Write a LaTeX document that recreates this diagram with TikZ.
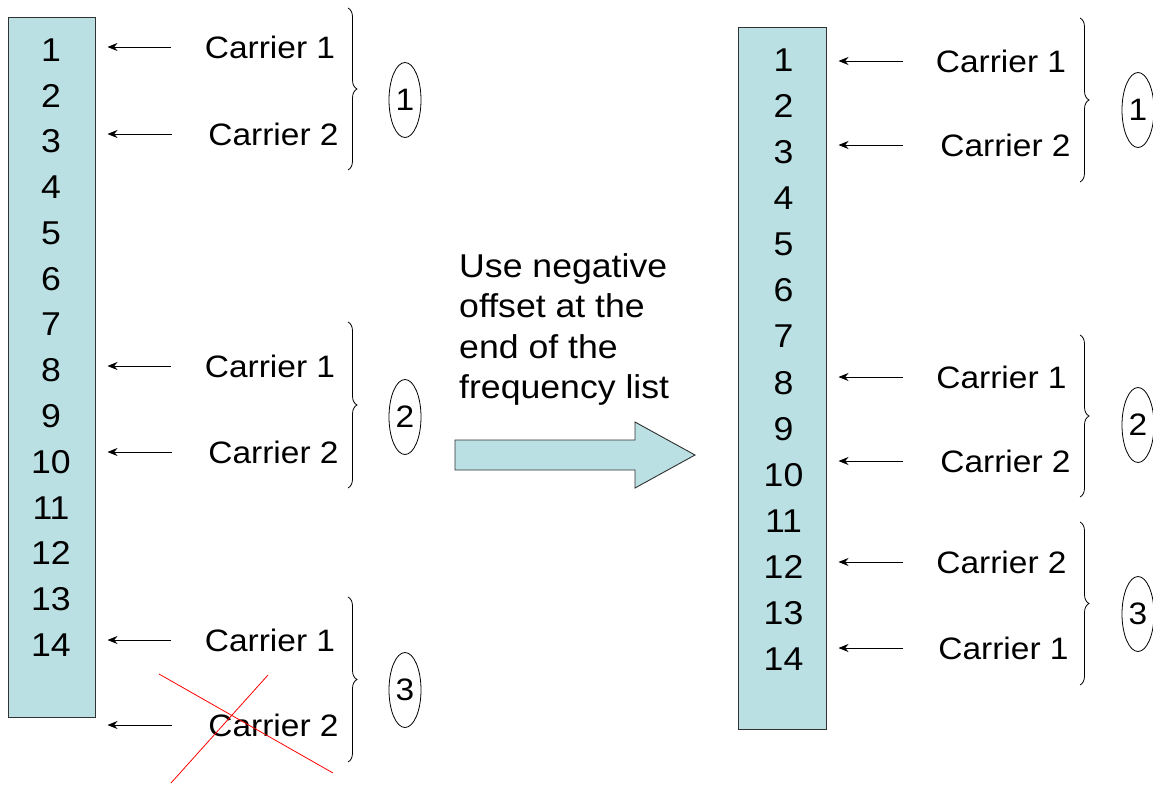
\documentclass[tikz,border=0pt]{standalone}
\usepackage{fontspec}
\setmainfont{Liberation Sans}[FakeStretch=1.08]
\usetikzlibrary{arrows.meta,shapes.geometric,decorations.pathreplacing}
\definecolor{boxblue}{RGB}{186,224,227}
\definecolor{edge}{RGB}{50,50,50}
\begin{document}
\begin{tikzpicture}[x=1pt,y=-1pt,
  colbox/.style={draw=edge,line width=1pt,fill=boxblue,inner sep=0,minimum width=#1},
  num/.style={inner sep=0,font=\fontsize{33}{36}\selectfont},
  car/.style={inner sep=0,font=\fontsize{31}{36}\selectfont},
  arr/.style={draw=black,line width=0.9pt,-{Stealth[length=10pt,width=8pt]}},
  brc/.style={draw=black,line width=0.8pt,decorate,decoration={brace,amplitude=9pt,raise=0pt}},
  grp/.style={ellipse,draw=black,line width=0.8pt,inner sep=0,minimum width=32,minimum height=75,font=\fontsize{31}{36}\selectfont},
  cross/.style={draw=red,line width=0.8pt}]
\useasboundingbox (0,0) rectangle (1153,784);
\fill[white] (0,0) rectangle (1153,784);

% left column
\node[colbox=87,minimum height=699] (L) at (51.5,367.5) {};
\foreach \i in {1,...,14} \node[num] (l\i) at (51,{50+(\i-1)*45.77}) {\i};

\node[car] (a1) at (270,47) {Carrier 1};
\node[car] (a2) at (273.5,134) {Carrier 2};
\node[car] (a3) at (270,366) {Carrier 1};
\node[car] (a4) at (273.5,452) {Carrier 2};
\node[car] (a5) at (270,640) {Carrier 1};
\node[car] (a6) at (273.5,725) {Carrier 2};
\foreach \n in {a1,a3,a5}
  \draw[arr,shorten <=34pt,shorten >=12pt] (\n.west) -- (\n.west -| L.east);
\foreach \n in {a2,a4,a6}
  \draw[arr,shorten <=36pt,shorten >=12pt] (\n.west) -- (\n.west -| L.east);

\coordinate (b1t) at (348,8);   \coordinate (b1b) at (348,170);
\coordinate (b2t) at (348,322); \coordinate (b2b) at (348,488);
\coordinate (b3t) at (348,597); \coordinate (b3b) at (348,762);
\draw[brc] (b1t) -- (b1b);
\draw[brc] (b2t) -- (b2b);
\draw[brc] (b3t) -- (b3b);
\node[grp] (e1) at (405,100) {1};
\node[grp] (e2) at (405,417) {2};
\node[grp] (e3) at (405,690) {3};

\draw[cross] (159,674) -- (333,773);
\draw[cross] (268,675) -- (171,783);

% middle
\node[inner sep=0,anchor=north west,align=left,font=\fontsize{33}{40.5}\selectfont] (msg) at (459,253)
  {Use negative\\offset at the\\end of the\\frequency list};
\draw[draw=edge,line width=0.9pt,fill=boxblue]
  (455,440) -- (635,440) -- (635,422) -- (695,455) -- (635,488) -- (635,470) -- (455,470) -- cycle;

% right column
\node[colbox=88,minimum height=701] (R) at (782,378.5) {};
\foreach \i in {1,...,14} \node[num] (r\i) at (783.5,{60+(\i-1)*46.1}) {\i};

\node[car] (c1) at (1001,61) {Carrier 1};
\node[car] (c2) at (1005.5,145) {Carrier 2};
\node[car] (c3) at (1001.5,377) {Carrier 1};
\node[car] (c4) at (1005.5,461) {Carrier 2};
\node[car] (c5) at (1001.5,562) {Carrier 2};
\node[car] (c6) at (1003.5,648) {Carrier 1};
\coordinate (ra) at (903,0);
\foreach \n in {c1,c2,c3,c4,c5,c6}
  \draw[arr,shorten >=12pt] (ra |- \n.west) -- (\n.west -| R.east);

\draw[brc] (1080,18) -- (1080,182);
\draw[brc] (1080,335) -- (1080,497);
\draw[brc] (1080,522) -- (1080,685);
\node[grp] (f1) at (1138,110) {1};
\node[grp] (f2) at (1138,425) {2};
\node[grp] (f3) at (1138,614) {3};
\end{tikzpicture}
\end{document}
